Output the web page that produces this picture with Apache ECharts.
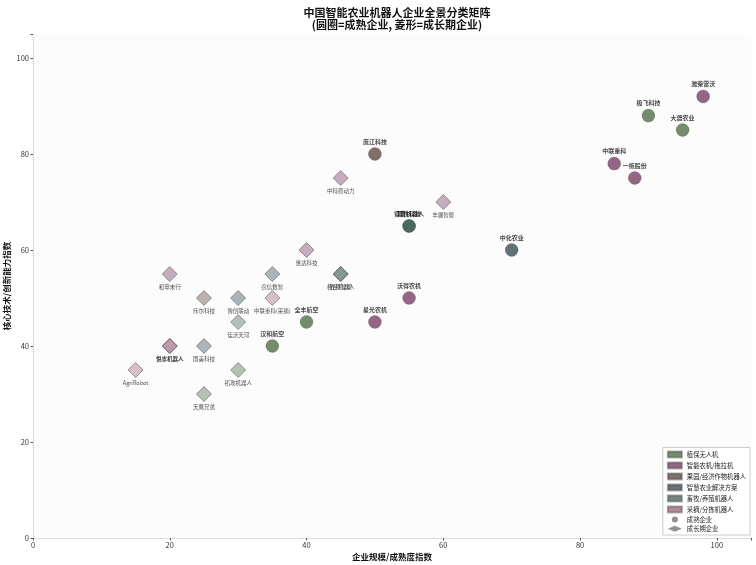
<!DOCTYPE html>
<html>
<head>
<meta charset="utf-8">
<script src="https://cdn.jsdelivr.net/npm/echarts@6/dist/echarts.min.js"></script>
<style>
  html, body { margin: 0; padding: 0; background: #fff; }
  #chart { width: 756px; height: 565px; }
</style>
</head>
<body>
<div id="chart"></div>
<script>
// 分类
const categories = ['植保无人机', '智能农机/拖拉机', '果园/经济作物机器人', '智慧农业解决方案', '畜牧/养殖机器人', '采摘/分拣机器人'];
const catColors = ['#446339', '#702f5a', '#573a33', '#2d4049', '#3d5e51', '#9c5e77'];

// 成熟企业 (圆圈)
const matureNames = ['潍柴雷沃', '极飞科技', '大疆农业', '中联重科', '一拖股份', '庞江科技', '睿畜机器人', '慧牧科技', '中化农业', '沃得农机', '星光农机', '全丰航空', '汉和航空'];
const matureX = [98, 90, 95, 85, 88, 50, 55, 55, 70, 55, 50, 40, 35];
const matureY = [92, 88, 85, 78, 75, 80, 65, 65, 60, 50, 45, 45, 40];
const matureCat = [1, 0, 0, 1, 1, 2, 4, 4, 3, 1, 1, 0, 0];

// 成长期企业 (菱形)
const growthNames = ['中科原动力', '丰疆智能', '惠达科技', '农信数智', '极目机器人', '牧原智能', '和申未行', '纬尔科技', '博创联动', '中联重科(采摘)', '佳沃天河', '悦丰机器人', '悦农机器人', '国美科技', 'AgriRobot', '拓攻机器人', '天鹰兄弟'];
const growthX = [45, 60, 40, 35, 45, 45, 20, 25, 30, 35, 30, 20, 20, 25, 15, 30, 25];
const growthY = [75, 70, 60, 55, 55, 55, 55, 50, 50, 50, 45, 40, 40, 40, 35, 35, 30];
const growthCat = [1, 1, 1, 3, 4, 4, 1, 2, 3, 5, 4, 5, 5, 3, 5, 0, 0];

const axisTicks = [0, 20, 40, 60, 80, 100];

const chart = echarts.init(document.getElementById('chart'));

function pick(names, xs, ys, cats, c) {
  const out = [];
  for (let i = 0; i < names.length; i++) {
    if (cats[i] === c) out.push({ name: names[i], value: [xs[i], ys[i]] });
  }
  return out;
}

// 十六进制颜色转 rgba
function fade(hex, a) {
  const n = parseInt(hex.slice(1), 16);
  return 'rgba(' + (n >> 16) + ',' + ((n >> 8) & 255) + ',' + (n & 255) + ',' + a + ')';
}

const series = [];
categories.forEach(function (cat, c) {
  series.push({
    name: cat,
    type: 'scatter',
    symbol: 'circle',
    symbolSize: 13,
    itemStyle: { color: fade(catColors[c], 0.92), borderColor: 'rgba(60,60,60,0.5)', borderWidth: 0.5 },
    label: {
      show: true, position: 'top', distance: 3,
      formatter: '{b}', fontSize: 6, fontWeight: 'bold', color: '#111'
    },
    data: pick(matureNames, matureX, matureY, matureCat, c),
    z: 3
  });
  series.push({
    name: cat,
    type: 'scatter',
    symbol: 'diamond',
    symbolSize: [15, 15],
    itemStyle: { color: fade(catColors[c], 0.48), borderColor: 'rgba(70,70,70,0.8)', borderWidth: 0.8 },
    label: {
      show: true, position: 'bottom', distance: 2,
      formatter: '{b}', fontSize: 5.5, color: '#222'
    },
    data: pick(growthNames, growthX, growthY, growthCat, c),
    z: 2
  });
});
// 图例中的形状说明
series.push({ name: '成熟企业', type: 'scatter', symbol: 'circle', itemStyle: { color: '#777' }, data: [] });
series.push({ name: '成长期企业', type: 'scatter', symbol: 'diamond', itemStyle: { color: '#777' }, data: [] });

const legendData = categories.map(function (c) { return { name: c, icon: 'rect' }; })
  .concat([{ name: '成熟企业', icon: 'circle' }, { name: '成长期企业', icon: 'diamond' }]);

const option = {
  backgroundColor: '#fff',
  textStyle: { fontFamily: 'Noto Sans CJK SC, DejaVu Sans, sans-serif' },
  title: {
    text: '中国智能农业机器人企业全景分类矩阵\n(圆圈=成熟企业, 菱形=成长期企业)',
    left: 392, top: 2, textAlign: 'center',
    textStyle: { fontSize: 11, fontWeight: 'bold', color: '#111', lineHeight: 12 }
  },
  legend: {
    data: legendData,
    orient: 'vertical',
    right: 6, bottom: 30,
    itemWidth: 14, itemHeight: 6, itemGap: 3,
    padding: [3, 4, 3, 4],
    backgroundColor: '#fff',
    borderColor: '#ccc', borderWidth: 1,
    textStyle: { fontSize: 6.3, color: '#222' }
  },
  grid: {
    left: 33, right: 5, top: 34, bottom: 27,
    outerBoundsMode: 'none', containLabel: false,
    show: true, backgroundColor: '#fcfcfc', borderWidth: 0
  },
  xAxis: {
    type: 'value', min: 0, max: 105, interval: 20,
    name: '企业规模/成熟度指数', nameLocation: 'middle', nameGap: 15,
    nameMoveOverlap: false,
    nameTextStyle: { fontSize: 8.5, fontWeight: 'bold', color: '#111' },
    axisLine: { show: true, lineStyle: { color: '#ddd', width: 1.2 } },
    axisTick: { show: true, length: 2.5, lineStyle: { color: '#555' } },
    axisLabel: {
      fontSize: 7.5, color: '#333', margin: 3,
      formatter: function (v) { return axisTicks.indexOf(v) >= 0 ? v : ''; }
    },
    splitLine: { show: false }
  },
  yAxis: {
    type: 'value', min: 0, max: 105, interval: 20,
    name: '核心技术/创新能力指数', nameLocation: 'middle', nameGap: 22,
    nameMoveOverlap: false,
    nameTextStyle: { fontSize: 8.5, fontWeight: 'bold', color: '#111' },
    axisLine: { show: true, lineStyle: { color: '#ddd', width: 1.2 } },
    axisTick: { show: true, length: 2.5, lineStyle: { color: '#555' } },
    axisLabel: {
      fontSize: 7.5, color: '#333', margin: 4,
      formatter: function (v) { return axisTicks.indexOf(v) >= 0 ? v : ''; }
    },
    splitLine: { show: false }
  },
  series: series,
  animation: false
};

chart.setOption(option);
</script>
</body>
</html>
